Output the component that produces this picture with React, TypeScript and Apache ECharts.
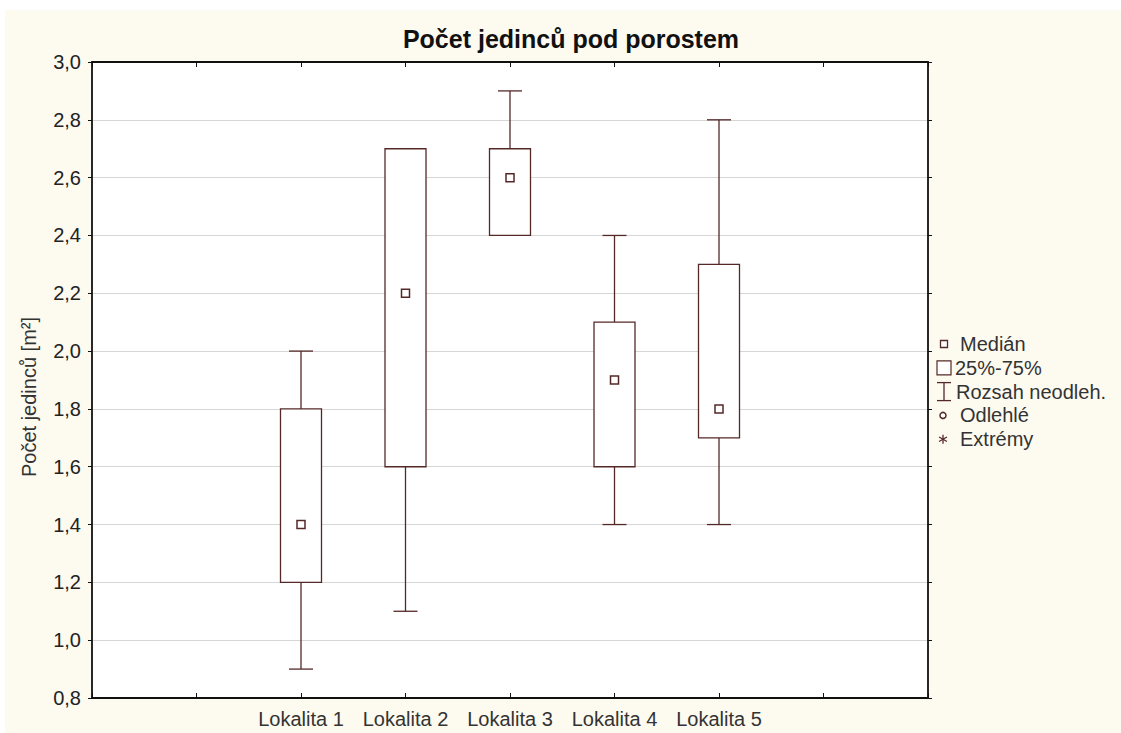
import React, { useEffect, useRef } from "react";
import * as echarts from "echarts";

// Box-plot statistics per site
const sites = ["Lokalita 1", "Lokalita 2", "Lokalita 3", "Lokalita 4", "Lokalita 5"];
const minimum = [0.9, 1.1, 2.4, 1.4, 1.4];
const lowerQuartile = [1.2, 1.6, 2.4, 1.6, 1.7];
const median = [1.4, 2.2, 2.6, 1.9, 1.8];
const upperQuartile = [1.8, 2.7, 2.7, 2.1, 2.3];
const maximum = [2.0, 2.7, 2.9, 2.4, 2.8];

// Empty slots on either side of the sites along the x axis
const leadingSlots = ["", ""];
const trailingSlots = ["", ""];

const legendLabels = ["Medián", "25%-75%", "Rozsah neodleh.", "Odlehlé", "Extrémy"];

const FONT = "'Liberation Sans', Arial, sans-serif";
const INK = "#552828";
const BG = "#fdfaf0";

export default function App() {
  const ref = useRef<HTMLDivElement>(null);

  useEffect(() => {
    if (!ref.current) return;
    const chart = echarts.init(ref.current, null, { renderer: "svg" });

    const categories = [...leadingSlots, ...sites, ...trailingSlots];
    const offset = leadingSlots.length;
    const boxData = sites.map((_, i) => [
      offset + i,
      minimum[i],
      lowerQuartile[i],
      median[i],
      upperQuartile[i],
      maximum[i],
    ]);

    const lineStyle = { stroke: INK, lineWidth: 1.3, fill: null };

    // Legend built from graphic elements
    const lx = 944;
    const ly0 = 344;
    const step = 23.8;
    const textXs = [960, 955, 956, 960, 960];
    const legendGraphics: any[] = [];
    legendLabels.forEach((label, i) => {
      const y = ly0 + i * step;
      if (i === 0) {
        legendGraphics.push({ type: "rect", shape: { x: lx - 3.5, y: y - 3.5, width: 7, height: 7 }, style: { stroke: INK, lineWidth: 1.3, fill: "#fff" } });
      } else if (i === 1) {
        legendGraphics.push({ type: "rect", shape: { x: lx - 7, y: y - 7, width: 14, height: 14 }, style: { stroke: INK, lineWidth: 1.2, fill: "#fff" } });
      } else if (i === 2) {
        legendGraphics.push({ type: "line", shape: { x1: lx, y1: y - 9, x2: lx, y2: y + 9 }, style: lineStyle });
        legendGraphics.push({ type: "line", shape: { x1: lx - 7, y1: y - 9, x2: lx + 7, y2: y - 9 }, style: lineStyle });
        legendGraphics.push({ type: "line", shape: { x1: lx - 7, y1: y + 9, x2: lx + 7, y2: y + 9 }, style: lineStyle });
      } else if (i === 3) {
        legendGraphics.push({ type: "circle", shape: { cx: lx - 1, cy: y, r: 3 }, style: { stroke: INK, lineWidth: 1.5, fill: "#fff" } });
      } else {
        const r = 4.5;
        const c = lx - 1;
        legendGraphics.push({ type: "line", shape: { x1: c, y1: y - r, x2: c, y2: y + r }, style: lineStyle });
        legendGraphics.push({ type: "line", shape: { x1: c - r * 0.87, y1: y - r / 2, x2: c + r * 0.87, y2: y + r / 2 }, style: lineStyle });
        legendGraphics.push({ type: "line", shape: { x1: c - r * 0.87, y1: y + r / 2, x2: c + r * 0.87, y2: y - r / 2 }, style: lineStyle });
      }
      legendGraphics.push({
        type: "text",
        x: textXs[i],
        y,
        style: { text: label, fill: "#333", font: `20px ${FONT}`, textVerticalAlign: "middle" },
      });
    });

    const option: any = {
      animation: false,
      backgroundColor: BG,
      textStyle: { fontFamily: FONT },
      title: {
        text: "Počet jedinců pod porostem",
        left: 566,
        top: 21,
        textAlign: "center",
        textStyle: { fontFamily: FONT, fontSize: 25, fontWeight: "bold", color: "#111" },
      },
      grid: {
        left: 92,
        right: 193,
        top: 62,
        bottom: 35,
        show: true,
        backgroundColor: "#ffffff",
        borderWidth: 0,
      },
      graphic: [
        { type: "rect", shape: { x: 0, y: 0, width: 1121, height: 10 }, style: { fill: "#fff" }, silent: true },
        { type: "rect", shape: { x: 0, y: 0, width: 5, height: 733 }, style: { fill: "#fff" }, silent: true },
        {
          type: "text",
          x: 29,
          y: 397,
          rotation: Math.PI / 2,
          style: {
            text: "Počet jedinců [m²]",
            fill: "#333",
            font: `20px ${FONT}`,
            textAlign: "center",
            textVerticalAlign: "middle",
          },
        },
        ...legendGraphics,
      ],
      xAxis: [
        {
          type: "category",
          data: categories,
          boundaryGap: false,
          position: "bottom",
          axisLine: { show: true, lineStyle: { color: "#111", width: 1.8 } },
          axisTick: { show: true, inside: true, length: 5, lineStyle: { color: "#111" } },
          axisLabel: { show: true, interval: 0, color: "#333", fontSize: 20, fontFamily: FONT, margin: 11 },
          splitLine: { show: false },
        },
        {
          type: "category",
          data: categories,
          boundaryGap: false,
          position: "top",
          axisLine: { show: true, onZero: false, lineStyle: { color: "#111", width: 1.8 } },
          axisTick: { show: true, inside: true, length: 5, lineStyle: { color: "#111" } },
          axisLabel: { show: false },
          splitLine: { show: false },
        },
      ],
      yAxis: [
        {
          type: "value",
          min: 0.8,
          max: 3.0,
          interval: 0.2,
          position: "left",
          axisLine: { show: true, lineStyle: { color: "#111", width: 1.8 } },
          axisTick: { show: true, inside: false, length: 4, lineStyle: { color: "#111" } },
          axisLabel: {
            color: "#222",
            fontSize: 20,
            fontFamily: FONT,
            margin: 11,
            formatter: (v: number) => v.toFixed(1).replace(".", ","),
          },
          splitLine: { show: true, lineStyle: { color: "#d6d6d6", width: 1 } },
        },
        {
          type: "value",
          min: 0.8,
          max: 3.0,
          interval: 0.2,
          position: "right",
          axisLine: { show: true, onZero: false, lineStyle: { color: "#111", width: 1.8 } },
          axisTick: { show: true, inside: false, length: 4, lineStyle: { color: "#111" } },
          axisLabel: { show: false },
          splitLine: { show: false },
        },
      ],
      series: [
        {
          type: "custom",
          xAxisIndex: 0,
          yAxisIndex: 0,
          data: boxData,
          encode: { x: 0, y: [1, 2, 3, 4, 5] },
          renderItem: (_params: any, api: any) => {
            const xi = api.value(0);
            const pMin = api.coord([xi, api.value(1)]);
            const pQ1 = api.coord([xi, api.value(2)]);
            const pMed = api.coord([xi, api.value(3)]);
            const pQ3 = api.coord([xi, api.value(4)]);
            const pMax = api.coord([xi, api.value(5)]);
            const cx = pMed[0];
            const half = 20.5;
            const cap = 12;
            const children: any[] = [];
            if (api.value(1) < api.value(2)) {
              children.push({ type: "line", shape: { x1: cx, y1: pQ1[1], x2: cx, y2: pMin[1] }, style: lineStyle });
              children.push({ type: "line", shape: { x1: cx - cap, y1: pMin[1], x2: cx + cap, y2: pMin[1] }, style: lineStyle });
            }
            if (api.value(5) > api.value(4)) {
              children.push({ type: "line", shape: { x1: cx, y1: pQ3[1], x2: cx, y2: pMax[1] }, style: lineStyle });
              children.push({ type: "line", shape: { x1: cx - cap, y1: pMax[1], x2: cx + cap, y2: pMax[1] }, style: lineStyle });
            }
            children.push({
              type: "rect",
              shape: { x: cx - half, y: pQ3[1], width: half * 2, height: pQ1[1] - pQ3[1] },
              style: { stroke: INK, lineWidth: 1.3, fill: "#fff" },
            });
            children.push({
              type: "rect",
              shape: { x: cx - 4, y: pMed[1] - 4, width: 8, height: 8 },
              style: { stroke: INK, lineWidth: 1.5, fill: "#fff" },
            });
            return { type: "group", children };
          },
        },
      ],
    };

    chart.setOption(option);
    return () => chart.dispose();
  }, []);

  return (
    <div style={{ position: "absolute", left: 0, top: 0, width: 1121, height: 733 }}>
      <div ref={ref} style={{ width: 1121, height: 733 }} />
    </div>
  );
}
